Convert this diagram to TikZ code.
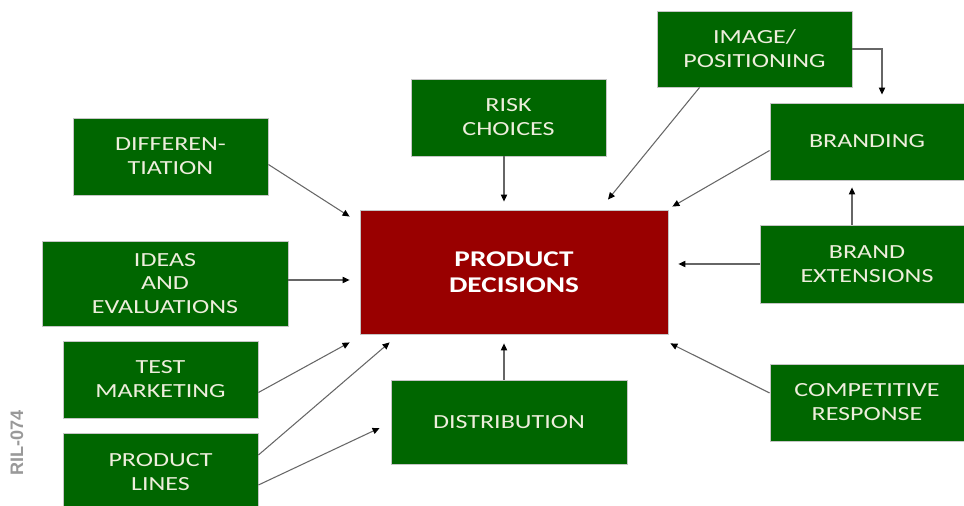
\documentclass[tikz,border=0pt]{standalone}
\usepackage{fontspec}
\newfontfamily\boxfont[FakeStretch=1.3]{Carlito}
\newfontfamily\tagfont{Liberation Sans}
\usetikzlibrary{arrows.meta,calc}
\definecolor{boxgreen}{RGB}{0,102,0}
\definecolor{decred}{RGB}{153,0,0}
\definecolor{boxtext}{RGB}{238,238,220}

\begin{document}
\begin{tikzpicture}
  [x=0.02cm,y=-0.02cm,
   greenN/.style={rectangle,fill=boxgreen,draw=gray!45,line width=0.5pt,
     text=boxtext,align=center,inner sep=0pt,
     minimum width=3.9cm,minimum height=1.54cm,
     font=\boxfont\fontsize{11.4}{13.6}\selectfont},
   redN/.style={rectangle,fill=decred,draw=gray!45,line width=0.5pt,
     text=white,align=center,inner sep=0pt,
     minimum width=6.16cm,minimum height=2.48cm,
     font=\boxfont\bfseries\fontsize{12.8}{14.8}\selectfont},
   arr/.style={-{Triangle[length=4pt,width=3.6pt,color=black]},
     draw=black!60,line width=0.6pt}]

  \useasboundingbox (0,0) rectangle (964,506);

  \node[redN] (dec) at (514,272) {PRODUCT\\DECISIONS};

  \node[greenN] (diff) at (170.5,156.5) {DIFFEREN-\\TIATION};
  \node[greenN,minimum width=4.92cm,minimum height=1.7cm] (ideas) at (165,283.5)
    {IDEAS\\AND\\EVALUATIONS};
  \node[greenN] (test) at (160.5,379.5) {TEST\\MARKETING};
  \node[greenN,minimum height=1.56cm] (lines) at (160.5,472) {PRODUCT\\LINES};
  \node[greenN] (risk) at (508.5,117.5) {RISK\\CHOICES};
  \node[greenN,minimum height=1.52cm] (image) at (754.5,49) {IMAGE/\\POSITIONING};
  \node[greenN,minimum width=3.88cm] (brand) at (867,141.5) {BRANDING};
  \node[greenN,minimum width=4.28cm,minimum height=1.56cm] (ext) at (867,264)
    {BRAND\\EXTENSIONS};
  \node[greenN,minimum width=3.88cm] (comp) at (867,402.5) {COMPETITIVE\\RESPONSE};
  \node[greenN,minimum width=4.72cm,minimum height=1.68cm] (dist) at (509,422)
    {DISTRIBUTION};

  \node[rotate=90,text=gray!80,font=\tagfont\bfseries\fontsize{10.3}{12}\selectfont]
    (tag) at (17,443) {RIL-074};

  \draw[arr] ($(diff.east)+(0,8)$) -- ($(dec.north west)+(-10,7)$);
  \draw[arr] ($(ideas.east)+(0,-3.5)$) -- ($(dec.west)+(-10,8)$);
  \draw[arr] ($(test.east)+(0,13)$) -- ($(dec.south west)+(-10,8)$);
  \draw[arr] ($(lines.east)+(0,-17)$) -- ($(dec.south west)+(30,8)$);
  \draw[arr] ($(lines.east)+(0,13)$) -- ($(dist.west)+(-11,6)$);
  \draw[arr] ($(dist.north)+(-5,0)$) -- ($(dec.south)+(-10,9)$);
  \draw[arr] ($(risk.south)+(-4.5,0)$) -- ($(dec.north)+(-10,-8)$);
  \draw[arr] ($(image.south west)+(43,0)$) -- ($(dec.north)+(94,-10)$);
  \draw[arr] (image.east) -| ($(brand.north)+(15,-8)$);
  \draw[arr] ($(brand.west)+(0,9)$) -- ($(dec.north east)+(4,-3)$);
  \draw[arr] ($(ext.north)+(-15,0)$) -- ($(brand.south)+(-15,7)$);
  \draw[arr] (ext.west) -- ($(dec.east)+(10,-8)$);
  \draw[arr] ($(comp.west)+(0,-9.5)$) -- ($(dec.south east)+(2,9)$);

\end{tikzpicture}
\end{document}
